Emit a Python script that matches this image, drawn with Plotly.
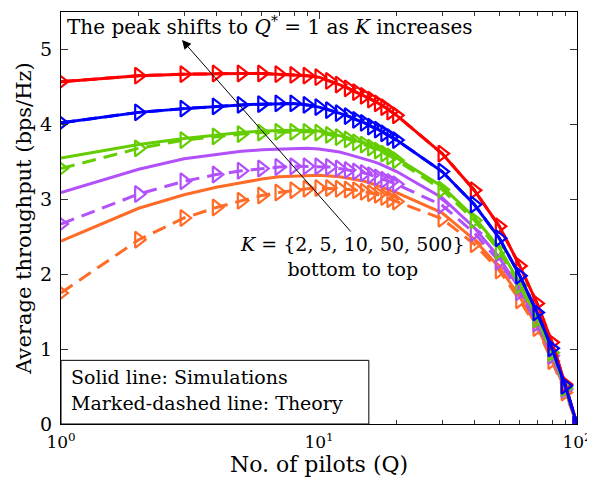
import math
import plotly.graph_objects as go

Q = list(range(1, 21)) + [30, 40, 50, 60, 70, 80, 90, 100]

# K = 500 (red)
sim_500 = [4.57, 4.65, 4.67, 4.68, 4.68, 4.68, 4.67, 4.66, 4.65, 4.63,
           4.58, 4.53, 4.48, 4.43, 4.38, 4.33, 4.28, 4.23, 4.17, 4.12,
           3.61, 3.12, 2.64, 2.11, 1.61, 1.09, 0.53, 0.0]
thy_500 = [4.57, 4.65, 4.67, 4.68, 4.68, 4.68, 4.67, 4.66, 4.65, 4.63,
           4.58, 4.53, 4.48, 4.43, 4.38, 4.33, 4.28, 4.23, 4.17, 4.12,
           3.61, 3.12, 2.64, 2.11, 1.61, 1.09, 0.53, 0.0]
# K = 50 (blue)
sim_50 = [4.02, 4.16, 4.21, 4.24, 4.26, 4.27, 4.28, 4.28, 4.26, 4.23,
          4.19, 4.15, 4.11, 4.06, 4.02, 3.97, 3.93, 3.88, 3.83, 3.79,
          3.37, 2.93, 2.48, 1.98, 1.49, 1.01, 0.51, 0.0]
thy_50 = [4.02, 4.16, 4.21, 4.24, 4.26, 4.27, 4.28, 4.28, 4.26, 4.23,
          4.19, 4.15, 4.11, 4.06, 4.02, 3.97, 3.93, 3.88, 3.83, 3.79,
          3.37, 2.93, 2.48, 1.98, 1.49, 1.01, 0.51, 0.0]
# K = 10 (green)
sim_10 = [3.55, 3.73, 3.81, 3.86, 3.89, 3.91, 3.92, 3.92, 3.92, 3.91,
          3.88, 3.85, 3.82, 3.78, 3.75, 3.71, 3.67, 3.63, 3.59, 3.55,
          3.17, 2.76, 2.35, 1.88, 1.42, 0.97, 0.49, 0.0]
thy_10 = [3.41, 3.68, 3.79, 3.84, 3.87, 3.89, 3.90, 3.90, 3.90, 3.89,
          3.86, 3.83, 3.80, 3.76, 3.73, 3.69, 3.65, 3.61, 3.57, 3.52,
          3.13, 2.72, 2.31, 1.85, 1.40, 0.95, 0.48, 0.0]
# K = 5 (purple)
sim_5 = [3.09, 3.40, 3.54, 3.60, 3.64, 3.66, 3.67, 3.68, 3.68, 3.67,
         3.65, 3.63, 3.60, 3.57, 3.54, 3.51, 3.48, 3.44, 3.41, 3.37,
         3.02, 2.62, 2.22, 1.80, 1.37, 0.93, 0.47, 0.0]
thy_5 = [2.67, 3.07, 3.24, 3.33, 3.38, 3.41, 3.43, 3.44, 3.44, 3.44,
         3.43, 3.41, 3.39, 3.37, 3.35, 3.32, 3.29, 3.26, 3.23, 3.20,
         2.92, 2.55, 2.17, 1.76, 1.34, 0.91, 0.46, 0.0]
# K = 2 (orange)
sim_2 = [2.44, 2.88, 3.06, 3.16, 3.22, 3.27, 3.30, 3.31, 3.32, 3.32,
         3.31, 3.30, 3.28, 3.26, 3.24, 3.21, 3.18, 3.15, 3.12, 3.09,
         2.82, 2.46, 2.09, 1.70, 1.30, 0.88, 0.45, 0.0]
thy_2 = [1.75, 2.46, 2.75, 2.89, 2.98, 3.05, 3.09, 3.12, 3.14, 3.15,
         3.15, 3.14, 3.13, 3.12, 3.10, 3.08, 3.06, 3.03, 3.00, 2.97,
         2.74, 2.40, 2.05, 1.65, 1.28, 0.84, 0.42, 0.0]

series = [
    ("K=2", sim_2, thy_2, "rgb(255,108,40)"),
    ("K=5", sim_5, thy_5, "rgb(178,80,250)"),
    ("K=10", sim_10, thy_10, "rgb(100,205,0)"),
    ("K=500", sim_500, thy_500, "rgb(255,0,0)"),
    ("K=50", sim_50, thy_50, "rgb(0,0,255)"),
]

x_ticks = [1, 10, 100]
x_ticktext = ["10<sup>0</sup>", "10<sup>1</sup>", "10<sup>2</sup>"]
x_minor = [2, 3, 4, 5, 6, 7, 8, 9, 20, 30, 40, 50, 60, 70, 80, 90]
y_ticks = [0, 1, 2, 3, 4, 5]

FONT = "DejaVu Serif"

fig = go.Figure()
for name, sim, thy, col in series:
    fig.add_trace(go.Scatter(
        x=Q, y=sim, mode="lines", name=name + " sim",
        line=dict(color=col, width=3), showlegend=False))
    fig.add_trace(go.Scatter(
        x=Q, y=thy, mode="lines+markers", name=name + " theory",
        line=dict(color=col, width=3, dash="14px,8px"),
        marker=dict(symbol="triangle-right-open", size=14,
                    color=col, line=dict(color=col, width=2.2)),
        showlegend=False))

# page body has an 8px margin; figure is sized so the plot area lands at
# x 61..577, y 12..424 in the 595x487 window without causing scrollbars
fig.update_layout(
    width=587, height=471,
    margin=dict(l=53, r=18, t=4, b=55),
    paper_bgcolor="white", plot_bgcolor="white",
    font=dict(family=FONT, size=19, color="black"),
    xaxis=dict(
        type="log", range=[0, 2],
        tickvals=x_ticks, ticktext=x_ticktext,
        ticks="inside", ticklen=7, tickcolor="#333",
        ticklabelstandoff=3, ticklabeloverflow="allow",
        minor=dict(tickvals=x_minor, ticks="inside", ticklen=4,
                   tickcolor="#333", showgrid=False),
        showline=True, linecolor="black", linewidth=1, mirror="allticks",
        showgrid=False, zeroline=False,
        title=dict(text="No. of pilots (Q)", font=dict(size=22), standoff=3),
        tickfont=dict(size=17),
    ),
    yaxis=dict(
        range=[0, 5.5],
        tickvals=y_ticks,
        ticks="inside", ticklen=7, tickcolor="#333",
        ticklabelstandoff=4,
        showline=True, linecolor="black", linewidth=1, mirror="allticks",
        showgrid=False, zeroline=False,
        title=dict(text="Average throughput (bps/Hz)", font=dict(size=21), standoff=2),
        tickfont=dict(size=19),
    ),
)

# explanation box
fig.add_shape(type="rect", xref="x", yref="y",
              x0=1, x1=15.6, y0=0, y1=0.85,
              line=dict(color="black", width=1), fillcolor="white", layer="above")
fig.add_annotation(xref="x", yref="y", x=0.03, y=0.63, xanchor="left", yanchor="middle",
                   text="Solid line: Simulations", showarrow=False,
                   font=dict(size=19))
fig.add_annotation(xref="x", yref="y", x=0.03, y=0.28, xanchor="left", yanchor="middle",
                   text="Marked-dashed line: Theory", showarrow=False,
                   font=dict(size=19))

# top annotation
fig.add_annotation(xref="paper", yref="paper", x=0.405, y=0.965, xanchor="center",
                   yanchor="middle",
                   text="The peak shifts to <i>Q</i><sup>*</sup> = 1 as <i>K</i> increases",
                   showarrow=False, font=dict(size=20))

# arrow
fig.add_annotation(xref="x", yref="y", axref="x", ayref="y",
                   x=0.469, y=5.126, ax=1.128, ay=2.55,
                   text="", showarrow=True, arrowhead=2, arrowsize=1.8,
                   arrowwidth=1, arrowcolor="black")

fig.add_annotation(xref="x", yref="y", x=1.128, y=2.23, xanchor="center",
                   yanchor="middle",
                   text="<i>K</i> = {2, 5, 10, 50, 500}<br>bottom to top",
                   showarrow=False, font=dict(size=19))

fig.write_html("out.html")
